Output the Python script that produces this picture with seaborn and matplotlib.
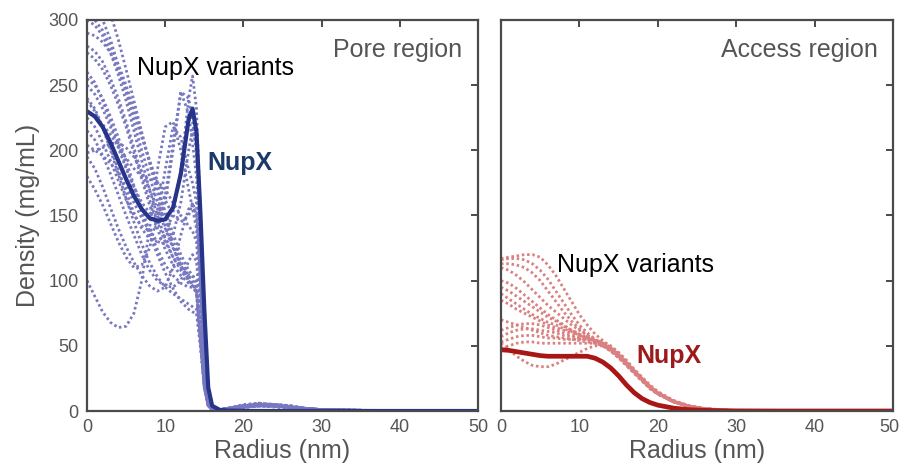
import numpy as np
import pandas as pd
import matplotlib
matplotlib.use("Agg")
import matplotlib.pyplot as plt
import matplotlib.transforms as mtransforms
import seaborn as sns

# ---------------- data ----------------
# radius grid for the pore-region profiles (nm)
pore_radius = [0, 1, 2, 3, 4, 5, 6, 7, 8, 9, 10, 11, 12, 13, 13.5, 14, 14.5, 15, 15.5, 16,
               17, 18, 20, 22, 24, 26, 28, 30, 40, 50]

pore_nupx = [230, 226, 218, 206, 192, 178, 165, 155, 148, 146, 147, 156, 182, 224, 232, 214, 152, 78, 18, 4,
             0.8, 0.3, 0.1, 0, 0, 0, 0, 0, 0, 0]

pore_variants = [
    [340, 335, 325, 305, 285, 262, 238, 214, 190, 168, 148, 130, 115, 104, 100, 95, 60, 22, 5, 1,
     1, 2, 4, 5, 4, 3, 2, 1, 0, 0],
    [320, 312, 300, 285, 265, 245, 222, 200, 180, 160, 142, 126, 112, 102, 98, 92, 55, 18, 4, 1,
     0.5, 1, 3, 4, 4, 3, 1.5, 0.5, 0, 0],
    [305, 300, 292, 280, 266, 250, 232, 212, 192, 172, 153, 136, 120, 108, 104, 98, 62, 24, 6, 1,
     1, 2, 5, 6, 5, 3, 2, 1, 0.2, 0],
    [300, 296, 288, 275, 258, 238, 215, 192, 170, 150, 132, 118, 108, 100, 97, 92, 58, 20, 5, 1,
     1, 1.5, 3, 4, 3.5, 2.5, 1.5, 0.5, 0, 0],
    [280, 276, 268, 255, 240, 222, 202, 182, 162, 145, 130, 118, 110, 104, 104, 100, 65, 25, 6, 1,
     1, 2, 4, 5, 5, 4, 2, 1, 0, 0],
    [275, 270, 262, 250, 235, 218, 198, 178, 158, 140, 124, 112, 104, 98, 96, 92, 60, 22, 5, 1,
     0.5, 1, 2.5, 4, 4, 3, 2, 1, 0, 0],
    [255, 250, 240, 226, 210, 192, 173, 155, 138, 124, 112, 104, 98, 95, 95, 92, 58, 20, 4, 1,
     1, 2, 4, 4, 3, 2, 1, 0.5, 0, 0],
    [250, 243, 232, 218, 202, 186, 172, 160, 152, 150, 165, 205, 245, 228, 205, 180, 118, 45, 8, 1,
     1, 2, 3, 4, 4, 3, 2, 1, 0, 0],
    [238, 230, 218, 202, 185, 168, 152, 140, 132, 130, 135, 152, 185, 240, 257, 232, 150, 55, 10, 2,
     1, 2, 4, 6, 5, 4, 2, 1, 0, 0],
    [225, 218, 206, 192, 177, 162, 150, 142, 138, 142, 160, 200, 245, 240, 222, 198, 128, 48, 8, 1,
     1, 1.5, 3, 5, 5, 3, 2, 1, 0, 0],
    [204, 200, 196, 190, 182, 172, 160, 148, 138, 130, 128, 135, 160, 200, 216, 205, 140, 52, 10, 2,
     1, 2, 4, 5, 4, 3, 2, 0.5, 0, 0],
    [198, 200, 202, 205, 206, 202, 195, 184, 170, 155, 140, 125, 112, 100, 96, 90, 55, 18, 4, 1,
     0.5, 1, 3, 4, 4, 3, 1.5, 0.5, 0, 0],
    [180, 170, 158, 144, 130, 118, 110, 112, 125, 150, 185, 218, 210, 185, 175, 160, 100, 35, 6, 1,
     1, 2, 4, 5, 4, 3, 2, 1, 0, 0],
    [100, 88, 76, 68, 64, 65, 75, 100, 140, 185, 218, 222, 200, 170, 155, 140, 90, 30, 5, 1,
     1, 2, 3, 4, 4, 3, 2, 1, 0, 0],
    [260, 252, 238, 222, 205, 188, 170, 152, 135, 120, 106, 94, 84, 78, 76, 75, 50, 18, 4, 1,
     1, 2, 4, 5, 5, 3, 2, 1, 0, 0],
    [240, 232, 218, 200, 182, 163, 145, 128, 114, 103, 95, 90, 86, 82, 80, 78, 50, 18, 4, 1,
     0.5, 1, 3, 4, 4, 3, 1.5, 0.5, 0, 0],
    [215, 208, 196, 182, 166, 150, 135, 120, 108, 100, 96, 95, 100, 115, 120, 115, 75, 28, 6, 1,
     1, 2, 4, 5, 4, 3, 2, 1, 0, 0],
    [195, 186, 172, 156, 140, 126, 114, 104, 96, 92, 95, 110, 135, 155, 158, 150, 100, 35, 6, 1,
     1, 1.5, 3, 4, 4, 3, 2, 1, 0, 0],
    [290, 288, 283, 275, 262, 246, 228, 210, 192, 176, 162, 150, 145, 150, 160, 150, 100, 35, 6, 1,
     1, 2, 4, 5, 5, 4, 2, 1, 0, 0],
    [230, 226, 220, 212, 203, 194, 186, 180, 178, 176, 170, 160, 150, 142, 138, 130, 85, 30, 6, 1,
     1, 2, 3, 4, 4, 3, 2, 1, 0, 0],
]

# radius grid for the access-region profiles (nm)
access_radius = [0, 1, 2, 3, 4, 5, 6, 7, 8, 9, 10, 11, 12, 13, 14, 15, 16, 17, 18, 19,
                 20, 22, 24, 26, 28, 30, 35, 40, 50]

access_nupx = [47, 46.5, 45.5, 44.5, 43.5, 42.5, 42, 42, 42, 42, 42, 42, 40.5, 37.5, 33, 27, 20, 14, 9.5, 6.5,
               4.5, 2.2, 1, 0.5, 0.2, 0.1, 0, 0, 0]

access_variants = [
    [117, 118, 119, 120, 120, 118, 112, 104, 94, 84, 74, 66, 59, 54, 49, 44, 38, 31, 25, 19,
     14.5, 8, 4, 2, 1, 0.4, 0.1, 0, 0],
    [116, 117, 117, 116, 113, 108, 101, 92, 83, 74, 66, 60, 55, 51, 47, 42, 36, 30, 24, 18,
     14, 7.5, 3.8, 1.8, 0.8, 0.3, 0.1, 0, 0],
    [113, 113, 112, 110, 106, 100, 92, 84, 76, 69, 63, 58, 54, 51, 48, 43, 37, 31, 25, 19,
     14, 7.5, 3.8, 1.8, 0.8, 0.3, 0.1, 0, 0],
    [110, 108, 104, 99, 93, 87, 81, 76, 71, 66, 62, 58, 55, 52, 48, 43, 37, 30, 24, 18,
     13.5, 7, 3.5, 1.6, 0.7, 0.3, 0, 0, 0],
    [100, 98, 94, 89, 84, 79, 74, 70, 66, 62, 59, 56, 53, 50, 46, 41, 35, 29, 23, 17,
     13, 7, 3.4, 1.6, 0.7, 0.3, 0, 0, 0],
    [95, 92, 88, 84, 80, 76, 72, 69, 65, 62, 59, 56, 54, 51, 47, 42, 36, 30, 24, 18,
     13.5, 7, 3.5, 1.6, 0.7, 0.3, 0, 0, 0],
    [90, 86, 82, 78, 74, 71, 68, 66, 63, 61, 58, 56, 53, 50, 46, 41, 35, 29, 23, 17.5,
     13, 7, 3.4, 1.6, 0.7, 0.3, 0, 0, 0],
    [85, 82, 78, 75, 72, 69, 66, 64, 62, 60, 58, 56, 54, 52, 48, 43, 37, 30, 24, 18,
     13.5, 7, 3.5, 1.6, 0.7, 0.3, 0, 0, 0],
    [62, 64, 66, 67, 67, 66, 64, 62, 60, 58, 56, 55, 54, 52, 49, 44, 38, 31, 25, 19,
     14, 7.5, 3.8, 1.8, 0.8, 0.3, 0.1, 0, 0],
    [57, 60, 62, 63, 63, 62, 61, 60, 58, 57, 56, 55, 54, 52, 48, 43, 37, 31, 25, 19,
     14, 7.5, 3.8, 1.8, 0.8, 0.3, 0.1, 0, 0],
    [53, 55, 57, 58, 58, 57, 56, 56, 55, 55, 55, 55, 54, 53, 50, 45, 39, 32, 26, 20,
     15, 8, 4, 2, 0.9, 0.4, 0.1, 0, 0],
    [48, 50, 52, 53, 53, 52, 52, 52, 52, 52, 52, 52, 52, 51, 48, 43, 37, 30, 24, 18,
     13.5, 7, 3.5, 1.6, 0.7, 0.3, 0, 0, 0],
    [52, 47, 42, 38, 35, 34, 34, 36, 39, 42, 45, 48, 50, 50, 47, 42, 36, 30, 24, 18,
     13.5, 7, 3.5, 1.6, 0.7, 0.3, 0, 0, 0],
    [70, 68, 66, 64, 62, 60, 58, 57, 56, 55, 54, 53, 52, 50, 46, 41, 35, 29, 23, 17.5,
     13, 7, 3.4, 1.6, 0.7, 0.3, 0, 0, 0],
]

x_ticks = [0, 10, 20, 30, 40, 50]
y_ticks = [0, 50, 100, 150, 200, 250, 300]

# ---------------- style ----------------
sns.set_style("white")
plt.rcParams["font.family"] = ["Liberation Sans", "DejaVu Sans"]

FRAME = "#4a4a4a"
TEXT_GRAY = "#555555"
PORE_LIGHT = "#7878c0"
PORE_DARK = "#26348a"
PORE_LABEL = "#1b3a68"
ACC_LIGHT = "#da8080"
ACC_DARK = "#a81616"
ACC_LABEL = "#9e1a1a"
DOT = (0, (0.9, 1.0))


def long_table(radius, curves):
    rows = []
    for k, vals in enumerate(curves):
        for r, v in zip(radius, vals):
            rows.append((k, r, v))
    return pd.DataFrame(rows, columns=["variant", "radius", "density"])


fig = plt.figure(figsize=(9.01, 4.70), dpi=100)
ax_pore = fig.add_axes([87 / 901, 59 / 470, 391 / 901, 391 / 470])
ax_acc = fig.add_axes([501 / 901, 59 / 470, 392 / 901, 391 / 470])

# pore region
sns.lineplot(data=long_table(pore_radius, pore_variants), x="radius", y="density",
             units="variant", estimator=None, color=PORE_LIGHT, lw=2.0,
             linestyle=DOT, ax=ax_pore, legend=False)
sns.lineplot(x=pore_radius, y=pore_nupx, color=PORE_DARK, lw=3.0, ax=ax_pore,
             solid_capstyle="round", solid_joinstyle="round")

# access region
sns.lineplot(data=long_table(access_radius, access_variants), x="radius", y="density",
             units="variant", estimator=None, color=ACC_LIGHT, lw=2.0,
             linestyle=DOT, ax=ax_acc, legend=False)
sns.lineplot(x=access_radius, y=access_nupx, color=ACC_DARK, lw=3.4, ax=ax_acc,
             solid_capstyle="round", solid_joinstyle="round")

for ax in (ax_pore, ax_acc):
    ax.set_xlim(0, 50)
    ax.set_ylim(0, 300)
    ax.set_xticks(x_ticks)
    ax.set_yticks(y_ticks)
    ax.tick_params(direction="in", top=True, right=True, length=5, width=1.4,
                   color=FRAME, labelcolor=TEXT_GRAY, labelsize=13, pad=6)
    for sp in ax.spines.values():
        sp.set_color(FRAME)
        sp.set_linewidth(1.6)
        sp.set_visible(True)
    ax.set_xlabel("Radius (nm)", fontsize=18, color=TEXT_GRAY, labelpad=2)
    ax.set_ylabel("")

ax_acc.tick_params(labelleft=False)
ax_pore.set_ylabel("Density (mg/mL)", fontsize=18, color=TEXT_GRAY, labelpad=6)

# keep the last radius label on the right panel inside the canvas
last_label = ax_acc.get_xticklabels()[-1]
last_label.set_transform(last_label.get_transform() +
                         mtransforms.ScaledTranslation(-4 / 100, 0, fig.dpi_scale_trans))

# annotations
ax_pore.text(6.4, 263, "NupX variants", fontsize=18, color="black", ha="left", va="center")
ax_pore.text(48, 277, "Pore region", fontsize=18, color=TEXT_GRAY, ha="right", va="center")
ax_pore.text(15.4, 190, "NupX", fontsize=18, fontweight="bold", color=PORE_LABEL,
             ha="left", va="center")

ax_acc.text(7.1, 112, "NupX variants", fontsize=18, color="black", ha="left", va="center")
ax_acc.text(48.1, 277, "Access region", fontsize=18, color=TEXT_GRAY, ha="right", va="center")
ax_acc.text(17.3, 42, "NupX", fontsize=18, fontweight="bold", color=ACC_LABEL,
            ha="left", va="center")

fig.savefig("out.png", dpi=100)
